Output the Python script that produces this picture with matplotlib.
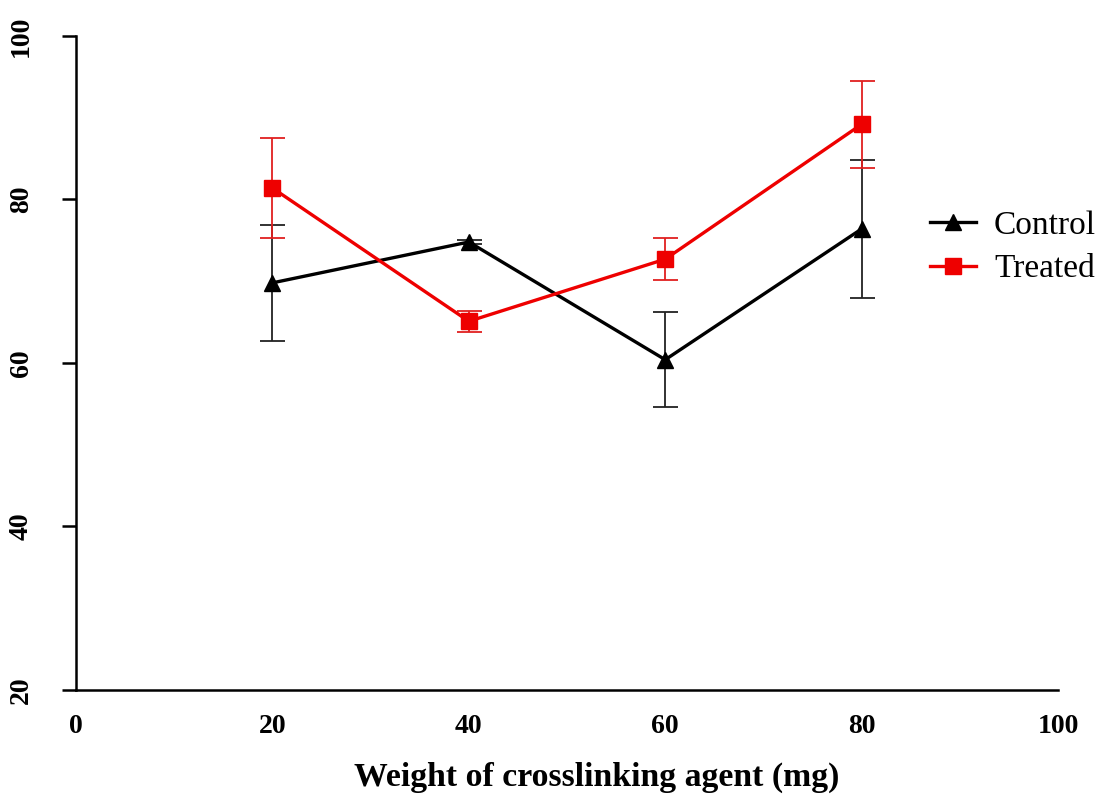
import numpy as np
import matplotlib.pyplot as plt
from matplotlib.lines import Line2D

plt.rcParams['font.family'] = ['Liberation Serif', 'DejaVu Serif']

# Weight of crosslinking agent (mg)
weight = [20, 40, 60, 80]

# Control series and its error
control = [69.8, 74.8, 60.4, 76.4]
control_err = [7.1, 0.3, 5.8, 8.4]

# Treated series and its error
treated = [81.4, 65.1, 72.7, 89.2]
treated_err = [6.1, 1.3, 2.6, 5.3]

fig = plt.figure(figsize=(10.97, 7.94), dpi=100)
ax = fig.add_axes([0.0693, 0.131, 0.8952, 0.8237])

ax.errorbar(weight, control, yerr=control_err,
            color='black', ecolor='#222222', elinewidth=1.3, capsize=9, capthick=1.3,
            linewidth=2.4, marker='^', markersize=11, zorder=3)
ax.errorbar(weight, treated, yerr=treated_err,
            color='#ee0000', ecolor='#e02020', elinewidth=1.3, capsize=9, capthick=1.3,
            linewidth=2.4, marker='s', markersize=11, zorder=4)

ax.set_xlim(0, 100)
ax.set_ylim(20, 100)
ax.set_xticks([0, 20, 40, 60, 80, 100])
ax.set_yticks([20, 40, 60, 80, 100])

ax.spines['top'].set_visible(False)
ax.spines['right'].set_visible(False)
ax.spines['left'].set_linewidth(1.8)
ax.spines['bottom'].set_linewidth(1.8)

ax.tick_params(axis='x', length=0, pad=17, labelsize=20)
ax.tick_params(axis='y', length=10, width=1.8, direction='out', pad=20.5, labelsize=20)
for lab in ax.get_xticklabels() + ax.get_yticklabels():
    lab.set_fontweight('bold')
for lab in ax.get_yticklabels():
    lab.set_rotation(90)
    lab.set_verticalalignment('center')

ax.set_xlabel('Weight of crosslinking agent (mg)', fontsize=24.3, fontweight='bold')
ax.xaxis.set_label_coords(0.5305, -0.109)

handles = [Line2D([], [], color='black', linewidth=2.4, marker='^', markersize=11),
           Line2D([], [], color='#ee0000', linewidth=2.4, marker='s', markersize=11)]
ax.legend(handles, ['Control', 'Treated'], loc='center left', bbox_to_anchor=(0.87, 0.677),
          frameon=False, fontsize=24, handlelength=1.36, handletextpad=0.55,
          labelspacing=0.4, borderpad=0, borderaxespad=0)

fig.savefig('out.png', dpi=100)
